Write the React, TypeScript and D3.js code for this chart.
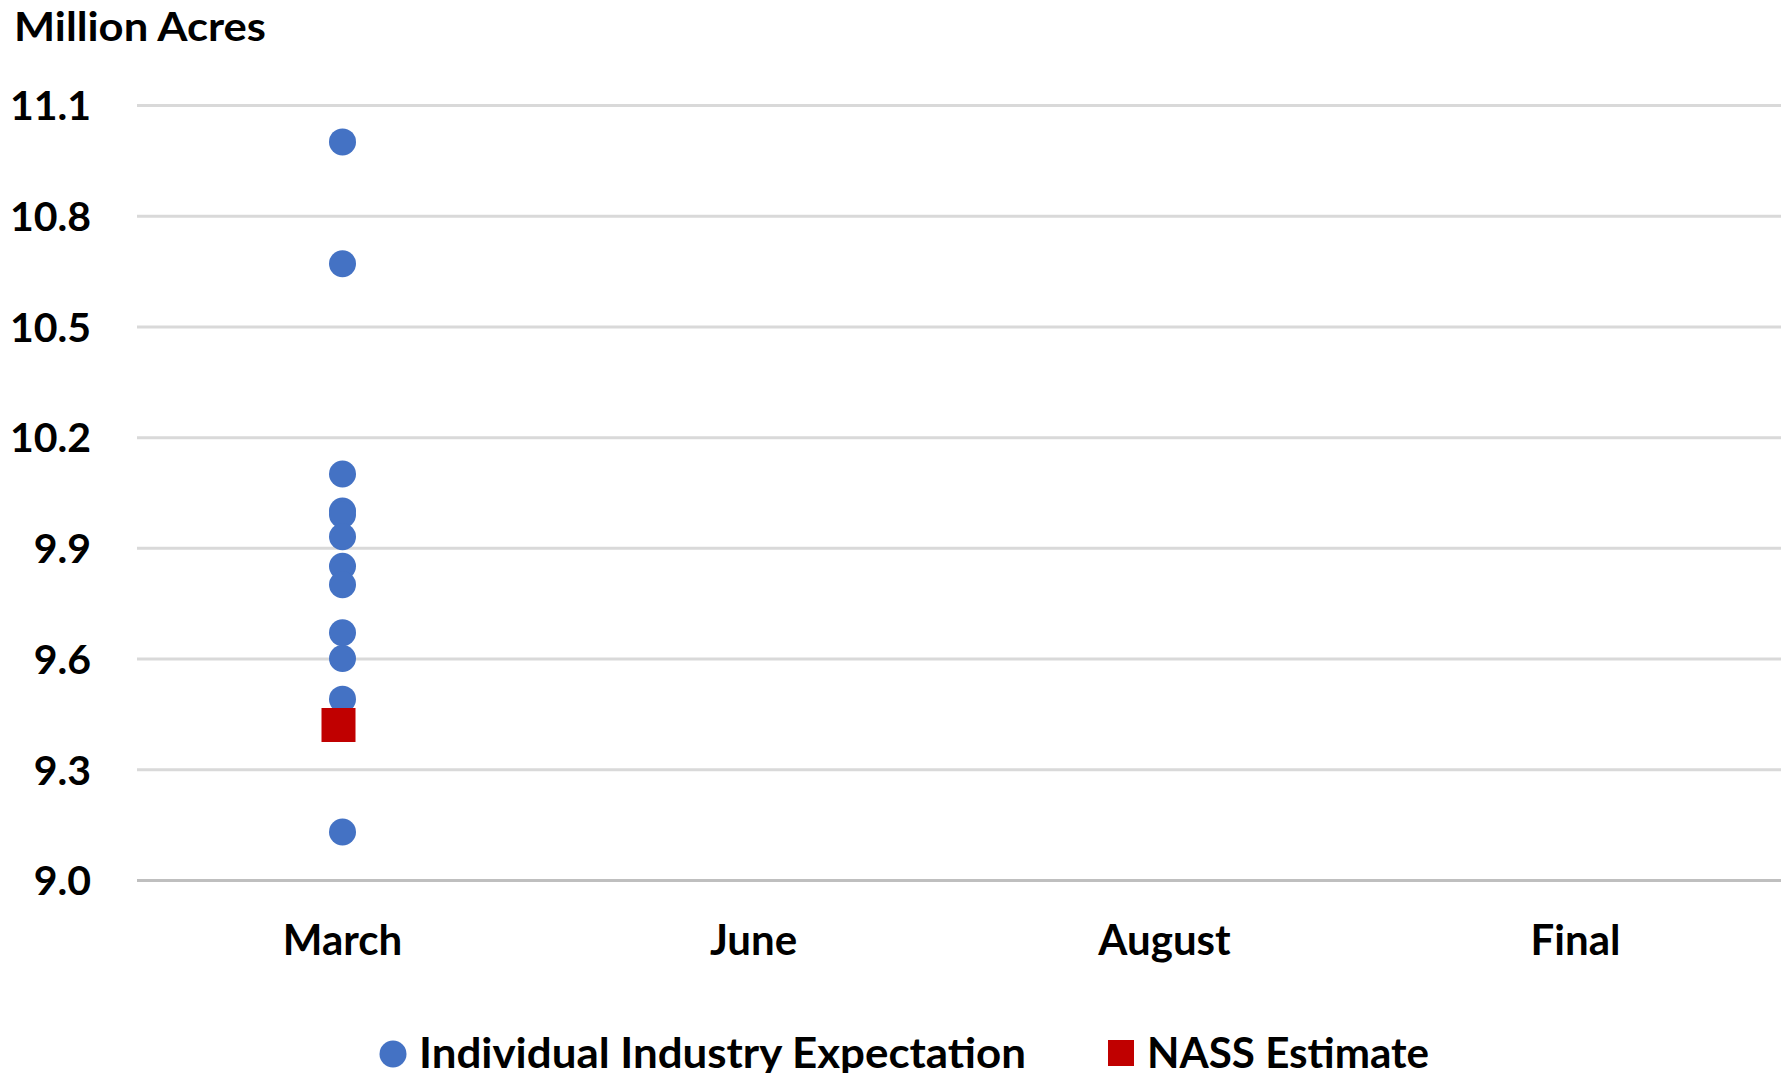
import React, { useEffect, useRef } from "react";
import * as d3 from "d3";

// categories on the x axis
const months = ["March", "June", "August", "Final"];

// individual industry expectations (March only), million acres
const industryMonths = ["March", "March", "March", "March", "March", "March", "March", "March", "March", "March", "March", "March"];
const industryValues = [11.0, 10.67, 10.1, 10.0, 9.99, 9.93, 9.85, 9.8, 9.67, 9.6, 9.49, 9.13];

// NASS estimate
const nassMonths = ["March"];
const nassValues = [9.42];

// y axis ticks
const yTicks = [9.0, 9.3, 9.6, 9.9, 10.2, 10.5, 10.8, 11.1];

const seriesNames = ["Individual Industry Expectation", "NASS Estimate"];

const width = 1787;
const height = 1073;
const margin = { top: 105, right: 6, bottom: 193, left: 137 };
const FONT = "Lato, 'Open Sans', sans-serif";

export default function App() {
  const ref = useRef<SVGSVGElement>(null);

  useEffect(() => {
    const svg = d3.select(ref.current);
    svg.selectAll("*").remove();

    const innerWidth = width - margin.left - margin.right;
    const innerHeight = height - margin.top - margin.bottom;

    const xScale = d3.scaleBand().domain(months).range([0, innerWidth]);
    const yScale = d3.scaleLinear().domain([9.0, 11.1]).range([innerHeight, 0]);

    const chart = svg.append("g").attr("transform", `translate(${margin.left}, ${margin.top})`);

    // gridlines + y labels
    const yAxis = d3.axisLeft(yScale).tickValues(yTicks).tickFormat(d3.format(".1f")).tickSize(-innerWidth).tickPadding(46);
    const yG = chart.append("g").call(yAxis);
    yG.select(".domain").remove();
    yG.selectAll(".tick line")
      .attr("stroke", (d: any) => (d === 9.0 ? "#bfbfbf" : "#d9d9d9"))
      .attr("stroke-width", 3);
    yG.selectAll(".tick text")
      .attr("font-family", FONT)
      .attr("font-size", 41)
      .attr("font-weight", 700)
      .attr("fill", "#000")
      .attr("dy", "0.36em");

    // x labels
    const xAxis = d3.axisBottom(xScale).tickSize(0).tickPadding(67);
    const xG = chart.append("g").attr("transform", `translate(0, ${innerHeight})`).call(xAxis);
    xG.select(".domain").remove();
    xG.selectAll(".tick text")
      .attr("font-family", FONT)
      .attr("font-size", 42)
      .attr("font-weight", 700)
      .attr("fill", "#000")
      .attr("dy", "0.2em");

    const cx = (m: string) => (xScale(m) as number) + xScale.bandwidth() / 2;

    // industry dots
    chart.selectAll("circle.ind").data(industryValues).join("circle").attr("class", "ind")
      .attr("cx", (d, i) => cx(industryMonths[i]))
      .attr("cy", d => yScale(d))
      .attr("r", 13.5)
      .attr("fill", "#4472C4");

    // NASS squares
    chart.selectAll("rect.nass").data(nassValues).join("rect").attr("class", "nass")
      .attr("x", (d, i) => cx(nassMonths[i]) - 21)
      .attr("y", d => yScale(d) - 17)
      .attr("width", 34)
      .attr("height", 34)
      .attr("fill", "#C00000");

    // unit title
    svg.append("text")
      .attr("x", 14)
      .attr("y", 41)
      .attr("font-family", FONT)
      .attr("font-size", 40)
      .attr("font-weight", 700)
      .attr("textLength", 252)
      .attr("lengthAdjust", "spacingAndGlyphs")
      .text("Million Acres");

    // legend
    const legend = svg.append("g");
    legend.append("circle").attr("cx", 393).attr("cy", 1054).attr("r", 13.5).attr("fill", "#4472C4");
    legend.append("text")
      .attr("x", 419).attr("y", 1068)
      .attr("font-family", FONT).attr("font-size", 42).attr("font-weight", 700)
      .attr("textLength", 607).attr("lengthAdjust", "spacingAndGlyphs")
      .text(seriesNames[0]);
    legend.append("rect").attr("x", 1108).attr("y", 1040).attr("width", 26).attr("height", 26).attr("fill", "#C00000");
    legend.append("text")
      .attr("x", 1147).attr("y", 1068)
      .attr("font-family", FONT).attr("font-size", 42).attr("font-weight", 700)
      .attr("textLength", 282).attr("lengthAdjust", "spacingAndGlyphs")
      .text(seriesNames[1]);
  }, []);

  return (
    <div style={{ position: "absolute", left: 0, top: 0 }}>
      <svg ref={ref} width={width} height={height} style={{ display: "block", background: "#fff" }} />
    </div>
  );
}
